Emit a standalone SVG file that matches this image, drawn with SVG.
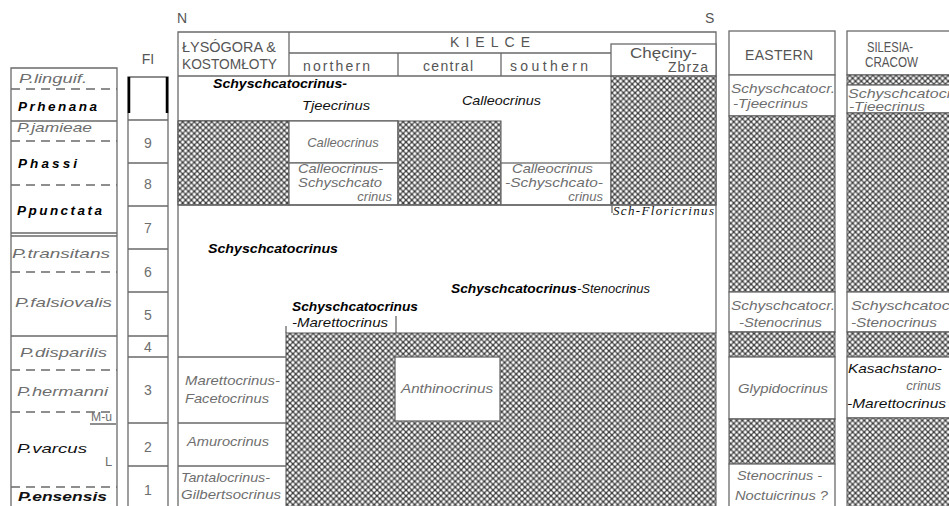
<svg xmlns="http://www.w3.org/2000/svg" width="949" height="506" viewBox="0 0 949 506">
<defs>
<pattern id="hatch" width="5.8" height="5.8" patternUnits="userSpaceOnUse">
<rect width="5.8" height="5.8" fill="#3e3e3e"/>
<circle cx="0" cy="0" r="1.65" fill="#fff"/>
<circle cx="5.8" cy="0" r="1.65" fill="#fff"/>
<circle cx="0" cy="5.8" r="1.65" fill="#fff"/>
<circle cx="5.8" cy="5.8" r="1.65" fill="#fff"/>
<circle cx="2.9" cy="2.9" r="1.65" fill="#fff"/>
</pattern>
<style>
.ln{stroke:#6a6a6a;stroke-width:1.3;fill:none}
.da{stroke:#6a6a6a;stroke-width:1.3;fill:none;stroke-dasharray:9 6}
.hx{fill:url(#hatch);stroke:#555;stroke-width:1}
.wb{fill:#fff;stroke:#6a6a6a;stroke-width:1.3}
text{font-family:"Liberation Sans",Arial,sans-serif}
.g{font-style:italic;fill:#6e6e6e;font-size:13px}
.k{font-style:italic;fill:#111;font-size:13px}
.b{font-style:italic;font-weight:bold;fill:#000;font-size:13.5px}
.h{fill:#555;font-size:14px}
.n{fill:#6e6e6e;font-size:14px;text-anchor:middle}
</style>
</defs>
<rect width="949" height="506" fill="#fff"/>

<g id="compass">
<text class="h" x="177" y="23">N</text>
<text class="h" x="705" y="23">S</text>
</g>

<g id="zones">
<path class="ln" d="M11,506 V68 H117 V506"/>
<path class="ln" d="M11,121 H117 M11,233 H117 M11,236 H117 M11,336 H117 M90,424 H116"/>
<path class="da" d="M11,89 H117 M11,141 H117 M11,185 H117 M11,272 H117 M11,370 H117 M11,412 H114 M11,487 H117"/>
<text class="g" x="19" y="83" textLength="68" lengthAdjust="spacingAndGlyphs">P.linguif.</text>
<text class="b" x="18" y="111" textLength="79" lengthAdjust="spacing">Prhenana</text>
<text class="g" x="17" y="132" textLength="75" lengthAdjust="spacingAndGlyphs">P.jamieae</text>
<text class="b" x="18" y="168" textLength="59" lengthAdjust="spacing">Phassi</text>
<text class="b" x="17" y="215" textLength="85" lengthAdjust="spacing">Ppunctata</text>
<text class="g" x="12" y="258" font-size="14" textLength="98" lengthAdjust="spacingAndGlyphs">P.transitans</text>
<text class="g" x="15" y="307" font-size="14" textLength="97" lengthAdjust="spacingAndGlyphs">P.falsiovalis</text>
<text class="g" x="20" y="357" font-size="14" textLength="87" lengthAdjust="spacingAndGlyphs">P.disparilis</text>
<text class="g" x="17" y="396" font-size="14" textLength="91" lengthAdjust="spacingAndGlyphs">P.hermanni</text>
<text class="g" x="91" y="421" font-size="9.5" textLength="21" lengthAdjust="spacingAndGlyphs" style="font-style:normal">M-u</text>
<text class="k" x="17" y="453" font-size="14" textLength="70" lengthAdjust="spacingAndGlyphs">P.varcus</text>
<text class="g" x="105" y="466" font-size="10" style="font-style:normal">L</text>
<text class="k" x="18" y="501" font-size="14" font-weight="bold" textLength="89" lengthAdjust="spacingAndGlyphs">P.ensensis</text>
</g>

<g id="fi-column">
<text class="h" x="148" y="64" text-anchor="middle">FI</text>
<path class="ln" d="M128,506 V77 H168 V506"/>
<path d="M129,77 V113 M167,77 V113" stroke="#000" stroke-width="2.5"/>
<path class="ln" d="M128,120 H168 M128,163 H168 M128,206 H168 M128,249 H168 M128,292 H168 M128,336 H168 M128,357 H168 M128,423 H168 M128,466 H168"/>
<text class="n" x="148" y="148">9</text>
<text class="n" x="148" y="189">8</text>
<text class="n" x="148" y="233">7</text>
<text class="n" x="148" y="277">6</text>
<text class="n" x="148" y="320">5</text>
<text class="n" x="148" y="352">4</text>
<text class="n" x="148" y="395">3</text>
<text class="n" x="148" y="452">2</text>
<text class="n" x="148" y="495">1</text>
</g>

<g id="kielce-header">
<path class="ln" d="M178,506 V32 H716 V333"/>
<path class="ln" d="M289,32 V76 M289,53 H611 M398,53 V76 M501,53 V76 M178,76 H716"/>
<rect class="wb" x="611" y="44" width="105" height="32"/>
<text class="h" x="182" y="52" textLength="94" lengthAdjust="spacingAndGlyphs">ŁYSÓGORA &amp;</text>
<text class="h" x="182" y="69" textLength="95" lengthAdjust="spacingAndGlyphs">KOSTOMŁOTY</text>
<text class="h" x="450" y="47" textLength="80" lengthAdjust="spacing">KIELCE</text>
<text class="h" x="303" y="71" textLength="67" lengthAdjust="spacing">northern</text>
<text class="h" x="423" y="71" textLength="50" lengthAdjust="spacing">central</text>
<text class="h" x="510" y="71" textLength="78" lengthAdjust="spacing">southern</text>
<text class="h" x="630" y="58" textLength="67" lengthAdjust="spacingAndGlyphs">Chęciny-</text>
<text class="h" x="668" y="72" font-size="13" textLength="40" lengthAdjust="spacing">Zbrza</text>
</g>

<g id="kielce-upper">
<path class="ln" d="M178,121 H398"/>
<text class="b" x="213" y="88" textLength="134" lengthAdjust="spacingAndGlyphs">Schyschcatocrinus-</text>
<text class="k" x="302" y="110" font-size="14" textLength="68" lengthAdjust="spacingAndGlyphs">Tjeecrinus</text>
<text class="k" x="462" y="105" font-size="14" textLength="79" lengthAdjust="spacingAndGlyphs">Calleocrinus</text>
<rect class="hx" x="178" y="121" width="111" height="84"/>
<rect class="wb" x="289" y="121" width="109" height="42"/>
<text class="g" x="343" y="147" text-anchor="middle">Calleocrinus</text>
<rect class="wb" x="289" y="163" width="109" height="42"/>
<text class="g" x="298" y="173" font-size="10" textLength="85" lengthAdjust="spacingAndGlyphs">Calleocrinus-</text>
<text class="g" x="298" y="186.5" font-size="10" textLength="84" lengthAdjust="spacingAndGlyphs">Schyschcato</text>
<text class="g" x="392" y="200.5" font-size="10" text-anchor="end">crinus</text>
<rect class="hx" x="398" y="121" width="103" height="84"/>
<rect class="wb" x="501" y="163" width="110" height="42"/>
<text class="g" x="512" y="173" font-size="10" textLength="81" lengthAdjust="spacingAndGlyphs">Calleocrinus</text>
<text class="g" x="505" y="186.5" font-size="10" textLength="98" lengthAdjust="spacingAndGlyphs">-Schyschcato-</text>
<text class="g" x="603" y="200.5" font-size="10" text-anchor="end">crinus</text>
<rect class="hx" x="611" y="76" width="105" height="129"/>
<path class="ln" d="M178,205 H716 M612,205 V213"/>
<text class="k" x="613" y="215" font-size="12" fill="#333" textLength="101" lengthAdjust="spacing" style="font-family:'Liberation Serif',serif">Sch-Floricrinus</text>
</g>

<g id="kielce-middle">
<text class="b" x="208" y="253" textLength="130" lengthAdjust="spacingAndGlyphs">Schyschcatocrinus</text>
<text x="451" y="293"><tspan class="b" textLength="126" lengthAdjust="spacingAndGlyphs">Schyschcatocrinus</tspan><tspan class="k" font-size="14">-Stenocrinus</tspan></text>
<text class="b" x="292" y="311" textLength="126" lengthAdjust="spacingAndGlyphs">Schyschcatocrinus</text>
<text class="k" x="292" y="327" font-size="14" textLength="96" lengthAdjust="spacingAndGlyphs">-Marettocrinus</text>
<path class="ln" d="M286,326 V333 M396,316 V333"/>
</g>

<g id="kielce-lower">
<rect class="hx" x="286" y="333" width="430" height="180"/>
<rect class="wb" x="395" y="357" width="105" height="64"/>
<text class="g" x="447" y="393" text-anchor="middle" textLength="92" lengthAdjust="spacingAndGlyphs">Anthinocrinus</text>
<path class="ln" d="M178,357 H286 M178,423 H286 M178,466 H286"/>
<text class="g" x="185" y="385" textLength="95" lengthAdjust="spacingAndGlyphs">Marettocrinus-</text>
<text class="g" x="185" y="403" textLength="84" lengthAdjust="spacingAndGlyphs">Facetocrinus</text>
<text class="g" x="187" y="446" textLength="82" lengthAdjust="spacingAndGlyphs">Amurocrinus</text>
<text class="g" x="181" y="482" textLength="89" lengthAdjust="spacingAndGlyphs">Tantalocrinus-</text>
<text class="g" x="181" y="499" textLength="100" lengthAdjust="spacingAndGlyphs">Gilbertsocrinus</text>
</g>

<g id="eastern">
<rect class="wb" x="729" y="31" width="106" height="44"/>
<text class="h" x="745" y="60" textLength="68" lengthAdjust="spacing">EASTERN</text>
<rect class="wb" x="729" y="75" width="106" height="41"/>
<text class="g" x="731" y="93" font-size="14" textLength="104" lengthAdjust="spacingAndGlyphs">Schyschcatocr.</text>
<text class="g" x="733" y="108" font-size="14" textLength="75" lengthAdjust="spacingAndGlyphs">-Tjeecrinus</text>
<rect class="hx" x="729" y="116" width="106" height="176"/>
<rect class="wb" x="729" y="292" width="106" height="40"/>
<text class="g" x="731" y="310" font-size="14" textLength="104" lengthAdjust="spacingAndGlyphs">Schyschcatocr.</text>
<text class="g" x="739" y="327" font-size="14" textLength="83" lengthAdjust="spacingAndGlyphs">-Stenocrinus</text>
<rect class="hx" x="729" y="332" width="106" height="25"/>
<rect class="wb" x="729" y="357" width="106" height="62"/>
<text class="g" x="738" y="393" font-size="14" textLength="90" lengthAdjust="spacingAndGlyphs">Glypidocrinus</text>
<rect class="hx" x="729" y="419" width="106" height="45"/>
<rect class="wb" x="729" y="464" width="106" height="50"/>
<text class="g" x="737" y="480" font-size="14" textLength="85" lengthAdjust="spacingAndGlyphs">Stenocrinus -</text>
<text class="g" x="735" y="500" font-size="14" textLength="93" lengthAdjust="spacingAndGlyphs">Noctuicrinus ?</text>
</g>

<g id="silesia-cracow">
<rect class="wb" x="847" y="31" width="115" height="44"/>
<text class="h" x="867" y="52" font-size="11.5" textLength="46" lengthAdjust="spacingAndGlyphs">SILESIA-</text>
<text class="h" x="865" y="67" font-size="11.5" textLength="53" lengthAdjust="spacingAndGlyphs">CRACOW</text>
<rect class="hx" x="847" y="75" width="115" height="10"/>
<rect class="wb" x="847" y="85" width="115" height="28"/>
<text class="g" x="848" y="97.5" font-size="11" textLength="104" lengthAdjust="spacingAndGlyphs">Schyschcatocr</text>
<text class="g" x="849" y="111" font-size="11" textLength="76" lengthAdjust="spacingAndGlyphs">-Tjeecrinus</text>
<rect class="hx" x="847" y="113" width="115" height="179"/>
<rect class="wb" x="847" y="292" width="115" height="40"/>
<text class="g" x="851" y="310" font-size="14" textLength="104" lengthAdjust="spacingAndGlyphs">Schyschcatocr</text>
<text class="g" x="851" y="327" font-size="14" textLength="86" lengthAdjust="spacingAndGlyphs">-Stenocrinus</text>
<rect class="hx" x="847" y="332" width="115" height="25"/>
<rect class="wb" x="847" y="357" width="115" height="61"/>
<text class="k" x="848" y="373" font-size="14" textLength="94" lengthAdjust="spacingAndGlyphs">Kasachstano-</text>
<text class="g" x="941" y="390" font-size="14" text-anchor="end">crinus</text>
<text class="k" x="847" y="408" font-size="14" textLength="99" lengthAdjust="spacingAndGlyphs">-Marettocrinus</text>
<rect class="hx" x="847" y="418" width="115" height="95"/>
</g>

<g id="connectors"></g>
</svg>
